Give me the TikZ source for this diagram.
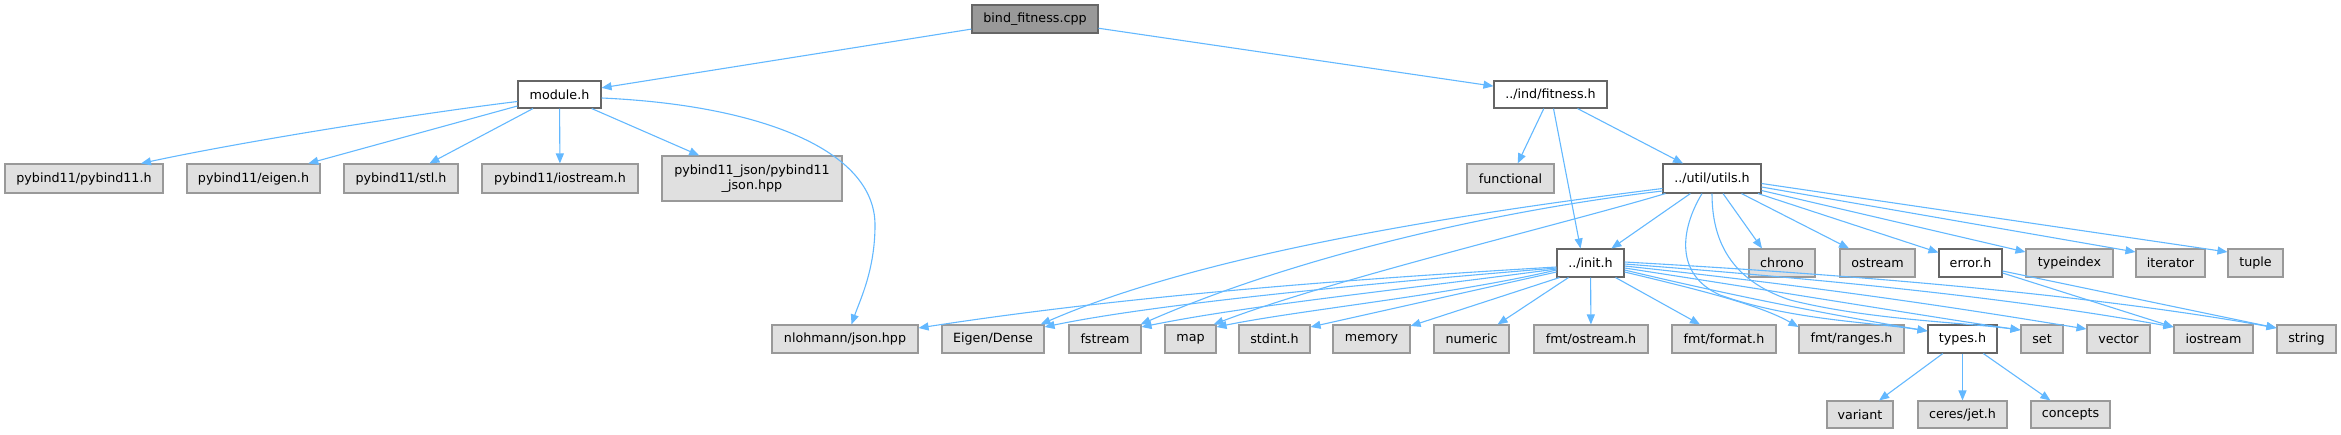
\documentclass[tikz,border=0pt]{standalone}
\usepackage{fontspec}
\setmainfont{DejaVu Sans}
\usetikzlibrary{arrows.meta,calc}
\definecolor{edgeblue}{HTML}{63B8FF}
\definecolor{grayfill}{HTML}{E0E0E0}
\definecolor{grayline}{HTML}{999999}
\definecolor{darkline}{HTML}{666666}
\begin{document}
\begin{tikzpicture}[x=1pt,y=-1pt,
  every node/.style={font=\fontsize{12.7}{15}\selectfont, inner sep=0pt, align=center, line width=1.1pt},
  gb/.style={draw=grayline, fill=grayfill, minimum height=28pt},
  wb/.style={draw=darkline, fill=white, minimum height=28pt},
  rootbox/.style={draw=darkline, fill=grayline, minimum height=28pt},
  e/.style={draw=edgeblue, line width=1.1pt, -{Triangle[length=10pt,width=8pt]}}]
\useasboundingbox (0,0) rectangle (2341,434);
% row 0
\node[rootbox, minimum width=126pt] (bind) at (1035,19) {bind\_fitness.cpp};
% row 1
\node[wb, minimum width=83pt, minimum height=27pt] (module) at (559.5,94.5) {module.h};
\node[wb, minimum width=113pt, minimum height=27pt] (fitness) at (1550.5,94.5) {../ind/fitness.h};
% row 2
\node[gb, minimum width=158pt, minimum height=29pt] (pyb11) at (84,178.5) {pybind11/pybind11.h};
\node[gb, minimum width=133pt, minimum height=29pt] (eigenh) at (253.5,178.5) {pybind11/eigen.h};
\node[gb, minimum width=114pt, minimum height=29pt] (stl) at (401,178.5) {pybind11/stl.h};
\node[gb, minimum width=156pt, minimum height=29pt] (iost) at (560,178.5) {pybind11/iostream.h};
\node[gb, minimum width=180pt, minimum height=45pt] (pjson) at (752,178.5) {pybind11\_json/pybind11\\\_json.hpp};
\node[gb, minimum width=87pt, minimum height=29pt] (functional) at (1510.5,178.5) {functional};
\node[wb, minimum width=98pt, minimum height=29pt] (utils) at (1712,178.5) {../util/utils.h};
% row 3
\node[wb, minimum width=67pt] (init) at (1590.5,263) {../init.h};
\node[gb, minimum width=66pt] (chrono) at (1782,263) {chrono};
\node[gb, minimum width=75pt] (ostream) at (1877.5,263) {ostream};
\node[wb, minimum width=63pt] (error) at (1970.5,263) {error.h};
\node[gb, minimum width=87pt] (typeindex) at (2069.5,263) {typeindex};
\node[gb, minimum width=69pt] (iterator) at (2170.5,263) {iterator};
\node[gb, minimum width=55pt] (tuple) at (2255.5,263) {tuple};
% row 4
\node[gb, minimum width=146pt] (nlohmann) at (845,339) {nlohmann/json.hpp};
\node[gb, minimum width=102pt] (eigend) at (993,339) {Eigen/Dense};
\node[gb, minimum width=72pt] (fstream) at (1105,339) {fstream};
\node[gb, minimum width=51pt] (map) at (1190.5,339) {map};
\node[gb, minimum width=71pt] (stdint) at (1274.5,339) {stdint.h};
\node[gb, minimum width=77pt] (memory) at (1371.5,339) {memory};
\node[gb, minimum width=75pt] (numeric) at (1471.5,339) {numeric};
\node[gb, minimum width=114pt] (fmtostream) at (1591,339) {fmt/ostream.h};
\node[gb, minimum width=104pt] (fmtformat) at (1724,339) {fmt/format.h};
\node[gb, minimum width=105pt] (fmtranges) at (1851.5,339) {fmt/ranges.h};
\node[wb, minimum width=69pt] (types) at (1962.5,339) {types.h};
\node[gb, minimum width=42pt] (set) at (2042,339) {set};
\node[gb, minimum width=63pt] (vector) at (2118.5,339) {vector};
\node[gb, minimum width=79pt] (iostream) at (2213.5,339) {iostream};
\node[gb, minimum width=59pt] (string) at (2306.5,339) {string};
% row 5
\node[gb, minimum width=66pt, minimum height=27pt] (variant) at (1860,414.5) {variant};
\node[gb, minimum width=89pt, minimum height=27pt] (jet) at (1962.5,414.5) {ceres/jet.h};
\node[gb, minimum width=79pt, minimum height=27pt] (concepts) at (2070.5,414.5) {concepts};

% edges from bind
\draw[e] (bind) -- (module);
\draw[e] (bind) -- (fitness);
% module
\draw[e] ($(module.west)+(0,7)$) .. controls (430,112) and (250,140) .. ($(pyb11.north)+(57,0)$);
\draw[e] (module) -- (eigenh);
\draw[e] (module) -- (stl);
\draw[e] (module) -- (iost);
\draw[e] (module) -- (pjson);
\draw[e] ($(module.east)+(0,3.5)$) .. controls (760,105) and (875,150) .. (875,225)
      .. controls (875,270) and (860,300) .. ($(nlohmann.north)+(6.5,0)$);
% fitness
\draw[e] (fitness) -- (functional);
\draw[e] ($(fitness.south)+(3,0)$) -- ($(init.north)+(-10,0)$);
\draw[e] (fitness) -- (utils);
% utils
\draw[e] (utils) -- (init);
\draw[e] ($(utils.south)+(11,0)$) -- ($(chrono.north)+(-20,0)$);
\draw[e] (utils) -- (ostream);
\draw[e] (utils) -- (error);
\draw[e] ($(utils.east)+(0,12)$) -- ($(typeindex.west)+(0,-11)$);
\draw[e] ($(utils.east)+(0,8.5)$) -- ($(iterator.west)+(0,-11)$);
\draw[e] ($(utils.east)+(0,5)$) -- ($(tuple.west)+(0,-11)$);
\draw[e] ($(utils.west)+(0,10)$) .. controls (1450,215) and (1200,255) .. ($(eigend.north east)+(-4,0)$);
\draw[e] ($(utils.west)+(0,12.5)$) .. controls (1500,210) and (1300,255) .. ($(fstream.north east)+(-1,0)$);
\draw[e] ($(utils.south west)+(3,0)$) .. controls (1560,225) and (1330,280) .. ($(map.north east)+(-3,0)$);
\draw[e] ($(utils.south)+(-10,0)$) .. controls (1680,230) and (1675,275) .. (1720,295)
      .. controls (1790,320) and (1870,322) .. ($(types.west)+(0,-8)$);
\draw[e] (utils.south) .. controls (1712,240) and (1730,280) .. (1790,300)
      .. controls (1870,320) and (1960,322) .. ($(set.west)+(0,-9)$);
% init
\draw[e] ($(init.west)+(0,4)$) .. controls (1300,282) and (1100,300) .. ($(nlohmann.east)+(0,-11)$);
\draw[e] ($(init.west)+(0,5)$) .. controls (1350,285) and (1150,305) .. ($(eigend.east)+(0,-12)$);
\draw[e] ($(init.west)+(0,6)$) .. controls (1400,290) and (1250,305) .. ($(fstream.east)+(0,-12)$);
\draw[e] ($(init.west)+(0,7)$) .. controls (1450,295) and (1300,310) .. ($(map.east)+(0,-12)$);
\draw[e] ($(init.west)+(0,9)$) -- ($(stdint.east)+(0,-12)$);
\draw[e] ($(init.south west)+(3,0)$) -- ($(memory.east)+(0,-13)$);
\draw[e] ($(init.south west)+(12,0)$) -- ($(numeric.north east)+(-12,0)$);
\draw[e] (init) -- (fmtostream);
\draw[e] ($(init.south east)+(-9,0)$) -- ($(fmtformat.north)+(-24,0)$);
\draw[e] ($(init.east)+(0,9)$) .. controls (1700,290) and (1760,305) .. ($(fmtranges.west)+(0,-12)$);
\draw[e] ($(init.east)+(0,7)$) .. controls (1750,300) and (1850,318) .. ($(types.west)+(0,-8)$);
\draw[e] ($(init.east)+(0,5)$) .. controls (1800,295) and (1950,320) .. ($(set.west)+(0,-9)$);
\draw[e] ($(init.east)+(0,3)$) .. controls (1850,290) and (2000,315) .. ($(vector.west)+(0,-10)$);
\draw[e] ($(init.east)+(0,1)$) .. controls (1900,285) and (2050,305) .. ($(iostream.west)+(0,-12)$);
\draw[e] ($(init.east)+(0,-1)$) .. controls (1950,280) and (2150,305) .. ($(string.west)+(0,-11)$);
% error
\draw[e] ($(error.east)+(0,10)$) -- ($(iostream.west)+(0,-12)$);
\draw[e] ($(error.east)+(0,8)$) -- ($(string.west)+(0,-11)$);
% types
\draw[e] (types) -- (variant);
\draw[e] (types.south) -- (types.south |- jet.north);
\draw[e] (types) -- (concepts);
\end{tikzpicture}
\end{document}
